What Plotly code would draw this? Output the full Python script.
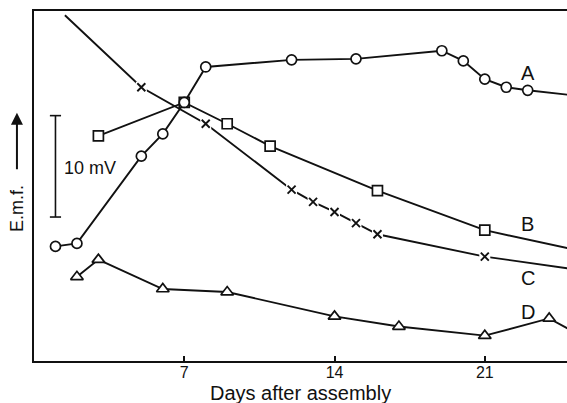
import plotly.graph_objects as go

# ---- data (days after assembly, e.m.f. in mV relative to an arbitrary zero) ----
days_a = [1, 2, 5, 6, 7, 8, 12, 15, 19, 20, 21, 22, 23, 26]
emf_a = [11.3, 11.6, 20.2, 22.4, 25.5, 29.0, 29.7, 29.8, 30.6, 29.6, 27.8, 27.0, 26.7, 26.0]

days_b = [3, 7, 9, 11, 16, 21, 26]
emf_b = [22.2, 25.5, 23.4, 21.2, 16.8, 12.9, 10.6]

days_c = [1.44, 5, 8, 12, 13, 14, 15, 16, 21, 26]
emf_c = [34.1, 27.0, 23.4, 16.9, 15.7, 14.7, 13.6, 12.5, 10.3, 8.8]
marked_c = [False, True, True, True, True, True, True, True, True, False]

days_d = [2, 3, 6, 9, 14, 17, 21, 24, 26]
emf_d = [8.3, 10.0, 7.1, 6.8, 4.4, 3.4, 2.5, 4.2, 1.9]

curve_names = ["A", "B", "C", "D"]
label_day = [23.0, 23.0, 23.0, 23.0]
label_emf = [28.4, 13.5, 8.2, 4.8]

x_ticks = [7, 14, 21]
scale_bar_mv = 10

FONT = "Liberation Sans"
BLACK = "#111111"

fig = go.Figure()

def line_trace(x, y):
    return go.Scatter(x=x, y=y, mode="lines", line=dict(color=BLACK, width=1.9),
                      hoverinfo="skip", showlegend=False)

for xs, ys in [(days_a, emf_a), (days_b, emf_b), (days_c, emf_c), (days_d, emf_d)]:
    fig.add_trace(line_trace(xs, ys))

# white halos behind crosses (gaps in line C)
cx = [d for d, m in zip(days_c, marked_c) if m]
cy = [v for v, m in zip(emf_c, marked_c) if m]
fig.add_trace(go.Scatter(x=cx, y=cy, mode="markers",
                         marker=dict(symbol="square", size=11, color="white", line=dict(width=0)),
                         hoverinfo="skip", showlegend=False))
fig.add_trace(go.Scatter(x=cx, y=cy, mode="markers",
                         marker=dict(symbol="x-thin", size=8, color=BLACK,
                                     line=dict(color=BLACK, width=1.9)),
                         hoverinfo="skip", showlegend=False))

# open markers
fig.add_trace(go.Scatter(x=days_b, y=emf_b, mode="markers",
                         marker=dict(symbol="square", size=10, color="white",
                                     line=dict(color=BLACK, width=1.7)),
                         hoverinfo="skip", showlegend=False))
fig.add_trace(go.Scatter(x=days_a, y=emf_a, mode="markers",
                         marker=dict(symbol="circle", size=10, color="#ffffff",
                                     line=dict(color=BLACK, width=1.7)),
                         hoverinfo="skip", showlegend=False))
fig.add_trace(go.Scatter(x=days_d, y=emf_d, mode="markers",
                         marker=dict(symbol="triangle-up", size=11, color="white",
                                     line=dict(color=BLACK, width=1.7)),
                         hoverinfo="skip", showlegend=False))

# curve labels
for name, xd, yv in zip(curve_names, label_day, label_emf):
    fig.add_annotation(x=xd, y=yv, text=name, showarrow=False,
                       font=dict(family=FONT, size=20, color=BLACK))

# 10 mV scale bar
bar_x = 1.0
bar_bottom = 14.2
fig.add_shape(type="line", x0=bar_x, x1=bar_x, y0=bar_bottom, y1=bar_bottom + scale_bar_mv,
              line=dict(color=BLACK, width=1.6))
for yy in (bar_bottom, bar_bottom + scale_bar_mv):
    fig.add_shape(type="line", x0=bar_x - 0.26, x1=bar_x + 0.26, y0=yy, y1=yy,
                  line=dict(color=BLACK, width=1.6))
fig.add_annotation(x=1.3, y=19.0, text=f"{scale_bar_mv} mV", showarrow=False,
                   xanchor="left", font=dict(family=FONT, size=18, color=BLACK))

# y-axis label with arrow
fig.add_annotation(xref="paper", yref="paper", x=-0.032, y=0.437, xanchor="center",
                   text="E.m.f.", textangle=-90, showarrow=False,
                   font=dict(family=FONT, size=18, color=BLACK))
fig.add_annotation(xref="paper", yref="paper", x=-0.032, y=0.709, ax=0, ay=58,
                   text="", showarrow=True, arrowhead=2, arrowsize=1.2, arrowwidth=2,
                   arrowcolor=BLACK)

# x-axis title
fig.add_annotation(xref="paper", yref="paper", x=0.5, y=-0.13, yanchor="bottom",
                   text="Days after assembly", showarrow=False,
                   font=dict(family=FONT, size=20, color=BLACK))

fig.update_layout(
    width=567, height=403,
    margin=dict(l=34, r=0, t=11, b=42),
    paper_bgcolor="white", plot_bgcolor="white",
    font=dict(family=FONT, color=BLACK),
    xaxis=dict(range=[0, 24.83], tickvals=x_ticks, ticks="inside", ticklen=5,
               tickwidth=1.5, tickcolor=BLACK, showline=True, linecolor=BLACK,
               linewidth=2, mirror=True, showgrid=False, zeroline=False,
               ticklabelstandoff=-4,
               tickfont=dict(family=FONT, size=16, color=BLACK)),
    yaxis=dict(range=[0, 34.52], showticklabels=False, ticks="", showline=True,
               linecolor=BLACK, linewidth=2, showgrid=False, zeroline=False),
)

fig.write_html("out.html")
